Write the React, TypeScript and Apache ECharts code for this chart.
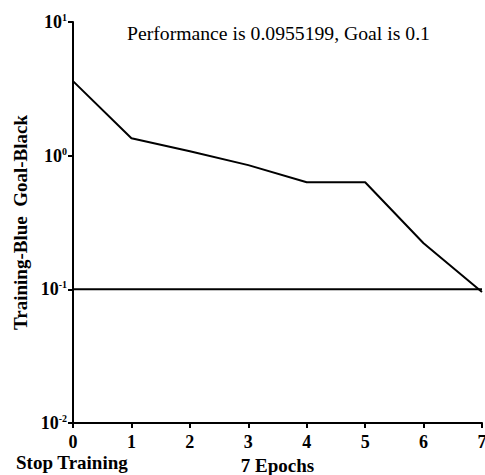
import React, { useEffect, useRef } from "react";
import * as echarts from "echarts";

const epochs = [0, 1, 2, 3, 4, 5, 6, 7];
const trainingPerf = [3.61, 1.35, 1.08, 0.85, 0.632, 0.632, 0.221, 0.0955199];
const goalValue = 0.1;
const yTicks = [0.01, 0.1, 1, 10];
const titleText = "Performance is 0.0955199, Goal is 0.1";
const yName = "Training-Blue  Goal-Black";
const xName = "7 Epochs";
const leftNote = "Stop Training";

const FONT = '"Liberation Serif", "Times New Roman", serif';

export default function App() {
  const ref = useRef<HTMLDivElement>(null);
  useEffect(() => {
    if (!ref.current) return;
    const chart = echarts.init(ref.current, null, { renderer: "svg" });
    chart.setOption({
      animation: false,
      backgroundColor: "#fff",
      textStyle: { fontFamily: FONT },
      title: {
        text: titleText,
        left: 127,
        top: 23,
        padding: 0,
        textStyle: { fontFamily: FONT, fontSize: 19.7, fontWeight: "normal", color: "#000" },
      },
      grid: { left: 73, right: 3, top: 22, bottom: 52, containLabel: false, outerBoundsMode: "none" },
      xAxis: {
        type: "value",
        min: 0,
        max: 7,
        interval: 1,
        name: xName,
        nameLocation: "middle",
        nameGap: 29,
        nameTextStyle: { fontFamily: FONT, fontSize: 19, fontWeight: "bold", color: "#000" },
        axisLine: { show: true, lineStyle: { color: "#000", width: 2 } },
        axisTick: { show: true, inside: false, length: 5, lineStyle: { color: "#000", width: 2 } },
        axisLabel: { fontFamily: FONT, fontSize: 18, fontWeight: "bold", color: "#000", margin: 10 },
        splitLine: { show: false },
      },
      yAxis: {
        type: "log",
        logBase: 10,
        min: yTicks[0],
        max: yTicks[yTicks.length - 1],
        name: yName,
        nameLocation: "middle",
        nameGap: 39,
        nameTextStyle: { fontFamily: FONT, fontSize: 19, fontWeight: "bold", color: "#000" },
        axisLine: { show: true, lineStyle: { color: "#000", width: 2 } },
        axisTick: { show: true, length: 5, lineStyle: { color: "#000", width: 2 } },
        splitLine: { show: false },
        axisLabel: {
          margin: 6,
          formatter: (v: number) => {
            const e = Math.round(Math.log10(v));
            return "{b|10}{s|" + e + "}";
          },
          rich: {
            b: { fontFamily: FONT, fontSize: 18, fontWeight: "bold", color: "#000" },
            s: { fontFamily: FONT, fontSize: 10, fontWeight: "bold", color: "#000", verticalAlign: "top", padding: [0, 0, 9, 0] },
          },
        },
      },
      graphic: [
        {
          type: "text",
          left: 16,
          top: 453,
          style: { text: leftNote, fontFamily: FONT, fontSize: 19, fontWeight: "bold", fill: "#000" },
        },
      ],
      series: [
        {
          type: "line",
          data: epochs.map((e, i) => [e, trainingPerf[i]]),
          symbol: "none",
          lineStyle: { color: "#000", width: 2 },
        },
        {
          type: "line",
          data: [
            [epochs[0], goalValue],
            [epochs[epochs.length - 1], goalValue],
          ],
          symbol: "none",
          lineStyle: { color: "#000", width: 2 },
        },
      ],
    });
    return () => chart.dispose();
  }, []);
  return <div ref={ref} style={{ width: 485, height: 475, position: "absolute", left: 0, top: 0 }} />;
}
